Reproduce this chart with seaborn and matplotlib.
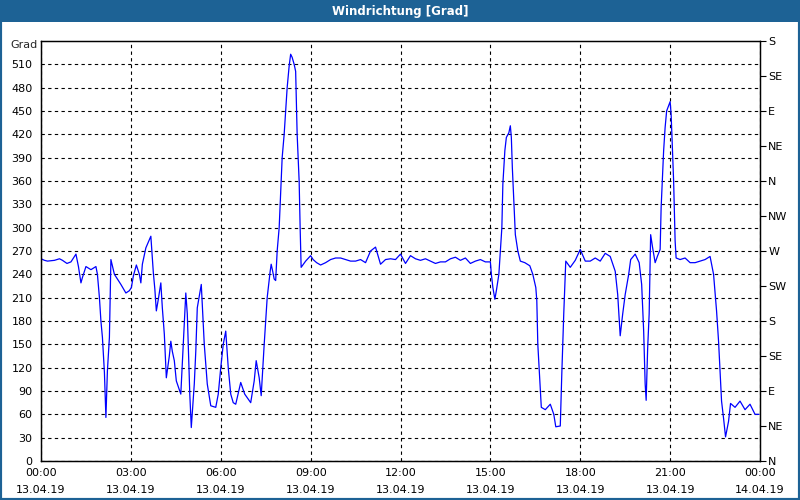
import pandas as pd
import matplotlib
matplotlib.use("Agg")
import matplotlib.pyplot as plt
from matplotlib.patches import Rectangle
import seaborn as sns

# minutes since 13.04.19 00:00 and wind direction in degrees
minutes = [0, 7, 13, 27, 37, 43, 52, 60, 70, 75, 80, 83, 90, 100, 110, 113, 117, 120, 123, 127,
           130, 133, 137, 140, 147, 153, 160, 170, 177, 181, 185, 191, 197, 200, 203, 210, 220, 225, 228, 231,
           235, 240, 243, 247, 251, 257, 260, 263, 267, 271, 280, 285, 290, 293, 298, 301, 307, 310, 313, 321,
           327, 333, 340, 350, 355, 360, 365, 370, 375, 380, 385, 390, 400, 408, 420, 427, 431, 437, 441, 447,
           453, 459, 461, 464, 467, 470, 473, 477, 479, 481, 483, 487, 490, 493, 497, 500, 503, 507, 510, 513,
           517, 519, 521, 530, 540, 545, 552, 560, 570, 580, 590, 600, 610, 620, 630, 640, 650, 660, 670, 680,
           690, 700, 710, 720, 730, 740, 750, 760, 770, 780, 790, 800, 810, 820, 830, 840, 850, 860, 870, 880,
           890, 900, 902, 905, 909, 912, 917, 920, 923, 925, 929, 932, 937, 940, 942, 944, 947, 950, 955, 960,
           969, 979, 985, 991, 993, 995, 999, 1002, 1010, 1020, 1027, 1031, 1040, 1043, 1047, 1051, 1060, 1070, 1080, 1090,
           1100, 1110, 1120, 1130, 1140, 1150, 1155, 1160, 1165, 1170, 1177, 1181, 1190, 1198, 1203, 1207, 1210, 1212, 1215, 1218,
           1221, 1225, 1230, 1235, 1240, 1242, 1247, 1250, 1253, 1260, 1262, 1267, 1270, 1272, 1280, 1290, 1300, 1310, 1320, 1330,
           1340, 1347, 1353, 1357, 1360, 1363, 1367, 1371, 1377, 1381, 1390, 1400, 1410, 1420, 1430, 1438]
direction = [260, 258, 257, 258, 260, 258, 254, 256, 266, 250, 229, 236, 250, 246, 250, 240, 210, 180, 159, 114,
             56, 116, 159, 259, 240, 234, 227, 216, 219, 223, 238, 252, 240, 229, 253, 274, 289, 242, 221, 193,
             208, 229, 197, 163, 107, 135, 154, 141, 129, 103, 86, 150, 216, 189, 86, 43, 99, 141, 197, 227,
             150, 99, 71, 69, 86, 120, 150, 167, 120, 86, 75, 73, 101, 86, 75, 103, 129, 107, 84, 150,
             210, 244, 253, 244, 234, 232, 270, 300, 330, 360, 390, 420, 450, 480, 508, 523, 519, 510, 501, 420,
             360, 300, 249, 257, 264, 259, 255, 252, 255, 259, 261, 261, 259, 257, 257, 259, 255, 270, 275, 253,
             259, 260, 259, 266, 254, 264, 260, 258, 260, 257, 254, 256, 256, 260, 262, 258, 261, 254, 257, 259,
             256, 256, 240, 223, 208, 219, 240, 270, 300, 356, 399, 416, 422, 431, 416, 377, 334, 291, 270, 257,
             255, 251, 240, 223, 206, 150, 103, 69, 66, 73, 60, 44, 45, 111, 190, 257, 249, 258, 272, 257,
             257, 261, 257, 267, 263, 244, 214, 161, 189, 214, 240, 259, 266, 255, 227, 167, 99, 78, 145, 189,
             291, 274, 255, 264, 272, 326, 399, 429, 450, 462, 446, 360, 283, 261, 259, 261, 255, 255, 257, 259,
             263, 240, 193, 154, 116, 77, 55, 31, 51, 74, 69, 77, 66, 73, 60, 60]

time_labels = ["00:00\n13.04.19", "03:00\n13.04.19", "06:00\n13.04.19", "09:00\n13.04.19",
               "12:00\n13.04.19", "15:00\n13.04.19", "18:00\n13.04.19", "21:00\n13.04.19",
               "00:00\n14.04.19"]
compass = ["N", "NE", "E", "SE", "S", "SW", "W", "NW", "N", "NE", "E", "SE", "S"]

df = pd.DataFrame({"min": minutes, "deg": direction})

sns.set_style("white")
plt.rcParams["font.family"] = ["DejaVu Sans"]
plt.rcParams["font.size"] = 8

bar_color = "#1d6295"
fig = plt.figure(figsize=(8, 5), dpi=100)
fig.patch.set_facecolor("white")
ax = fig.add_axes([41 / 800, 39 / 500, 719 / 800, 420 / 500])

sns.lineplot(data=df, x="min", y="deg", ax=ax, color="#0000ff", linewidth=0.9, estimator=None)

ax.set_xlim(0, 1440)
ax.set_ylim(0, 540)
ax.set_xticks(range(0, 1441, 180))
ax.set_xticklabels(time_labels, linespacing=1.9)
ax.set_xticks(range(0, 1441, 60), minor=True)
ax.set_yticks(range(0, 511, 30))
ax.set_xlabel("")
ax.set_ylabel("")
ax.tick_params(axis="x", which="both", direction="in", length=4, width=0.8, pad=5, colors="black")
ax.tick_params(axis="y", length=0, pad=6, colors="black")
ax.grid(True, which="major", color="black", linestyle=(0, (3, 3)), linewidth=0.8)
for s in ax.spines.values():
    s.set_color("black")
    s.set_linewidth(0.9)

ax2 = ax.twinx()
ax2.set_ylim(0, 540)
ax2.set_yticks(range(0, 541, 45))
ax2.set_yticklabels(compass)
ax2.tick_params(axis="y", direction="out", length=4, width=0.8, pad=2, colors="black")
ax2.grid(False)
for s in ax2.spines.values():
    s.set_color("black")
    s.set_linewidth(0.9)

fig.text(24 / 800, 1 - 45 / 500, "Grad", ha="center", va="center", fontsize=8)

# title bar and frame
fig.patches.append(Rectangle((0, 1 - 22 / 500), 1, 22 / 500, transform=fig.transFigure,
                             facecolor=bar_color, edgecolor="none", zorder=0))
fig.patches.append(Rectangle((0, 0), 1, 1, transform=fig.transFigure, fill=False,
                             edgecolor=bar_color, linewidth=3, zorder=0))
fig.text(0.5, 1 - 11 / 500, "Windrichtung [Grad]", ha="center", va="center",
         color="white", fontsize=8.5, fontweight="bold")

fig.savefig("out.png", dpi=100)
